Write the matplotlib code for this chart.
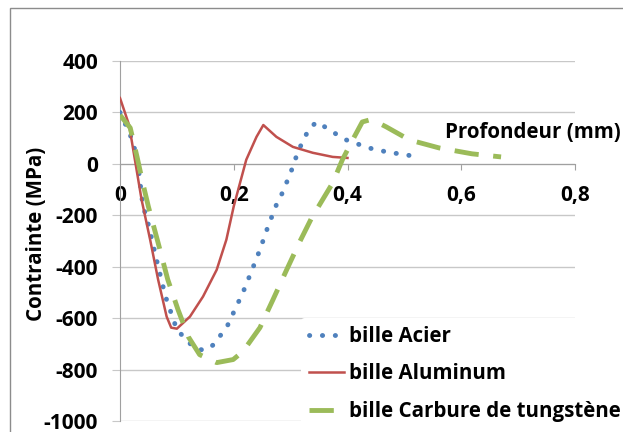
import matplotlib.pyplot as plt
from matplotlib.patches import Rectangle

# Data (depth in mm, stress in MPa)
acier_x = [0.0, 0.018, 0.03, 0.04, 0.051, 0.065, 0.08, 0.1, 0.128, 0.147, 0.165,
           0.189, 0.198, 0.216, 0.231, 0.246, 0.26, 0.275, 0.284, 0.3, 0.314,
           0.323, 0.332, 0.346, 0.363, 0.38, 0.398, 0.417, 0.437, 0.458, 0.477,
           0.497, 0.519]
acier_y = [200, 113, 27, -159, -245, -380, -516, -645, -710, -726, -703,
           -629, -586, -501, -419, -334, -245, -159, -120, -35, 54,
           93, 136, 163, 140, 116, 93, 78, 62, 52, 42,
           39, 27]

alu_x = [0.0, 0.016, 0.038, 0.053, 0.067, 0.082, 0.09, 0.1, 0.123, 0.146, 0.17,
         0.187, 0.2, 0.222, 0.24, 0.252, 0.275, 0.304, 0.339, 0.374, 0.4]
alu_y = [256, 151, -140, -295, -450, -594, -637, -641, -594, -516, -412,
         -295, -165, 16, 105, 151, 105, 66, 43, 27, 23]

carbure_x = [0.0, 0.018, 0.03, 0.04, 0.05, 0.067, 0.084, 0.102, 0.12, 0.14, 0.17,
             0.199, 0.216, 0.246, 0.269, 0.293, 0.316, 0.337, 0.374, 0.391,
             0.409, 0.426, 0.439, 0.451, 0.468, 0.509, 0.561, 0.619, 0.67]
carbure_y = [190, 140, 27, -74, -167, -307, -450, -567, -672, -742, -773,
             -761, -730, -637, -528, -412, -303, -210, -74, 16,
             93, 163, 171, 163, 144, 93, 62, 39, 27]

labels = ['bille Acier', 'bille Aluminum', 'bille Carbure de tungstène']
xticks = [0.2, 0.4, 0.6, 0.8]
yticks = [-1000, -800, -600, -400, -200, 0, 200, 400]

plt.rcParams['font.family'] = ['Open Sans', 'DejaVu Sans']
plt.rcParams['font.weight'] = 'bold'
fs = 14.8

fig = plt.figure(figsize=(6.23, 4.32), dpi=100)
ax = fig.add_axes([120 / 623, 1 - 421 / 432, 455 / 623, 360 / 432])

ax.plot(acier_x, acier_y, color='#4F81BD', lw=3.5, linestyle=(0, (0.05, 2.6)),
        dash_capstyle='round', label=labels[0], zorder=3)
ax.plot(alu_x, alu_y, color='#C0504D', lw=1.8, label=labels[1], zorder=3)
ax.plot(carbure_x, carbure_y, color='#9BBB59', lw=3.5, linestyle=(0, (5, 3)),
        label=labels[2], zorder=3)

ax.set_xlim(0, 0.8)
ax.set_ylim(-1000, 400)
ax.set_yticks(yticks)
ax.set_yticklabels([str(v) for v in yticks])
ax.set_xticks([0] + xticks)
ax.set_xticklabels(['0'] + [str(v).replace('.', ',') for v in xticks])
ax.grid(axis='y', color='#c8c8c8', lw=1)
ax.set_axisbelow(True)

for s in ['top', 'right']:
    ax.spines[s].set_visible(False)
ax.spines['bottom'].set_position(('data', 0))
ax.spines['bottom'].set_color('#a0a0a0')
ax.spines['left'].set_color('#a0a0a0')
ax.tick_params(axis='y', length=5.8, color='#c8c8c8', labelsize=15, pad=10)
ax.tick_params(axis='x', length=4, color='#a0a0a0', labelsize=15, pad=11)

ax.set_ylabel('Contrainte (MPa)', fontsize=fs, fontweight='bold')
ax.yaxis.set_label_coords(-0.16, 0.52)
ax.text(0.714, 0.8, 'Profondeur (mm)', transform=ax.transAxes, fontsize=fs,
        fontweight='bold', ha='left', va='center')

leg = fig.legend(loc='lower right', bbox_to_anchor=(1.026, -0.019), frameon=True,
                 fontsize=fs, handlelength=1.7, handletextpad=0.25,
                 labelspacing=0.8, borderpad=0.4)
leg.get_frame().set_edgecolor('none')
leg.get_frame().set_facecolor('white')
leg.get_frame().set_alpha(1)

fig.patches.append(Rectangle((10 / 623, -0.5), 2, 0.5 + 1 - 8 / 432,
                             transform=fig.transFigure, fill=False,
                             edgecolor='#8c8c8c', lw=1))

fig.savefig('out.png', dpi=100)
